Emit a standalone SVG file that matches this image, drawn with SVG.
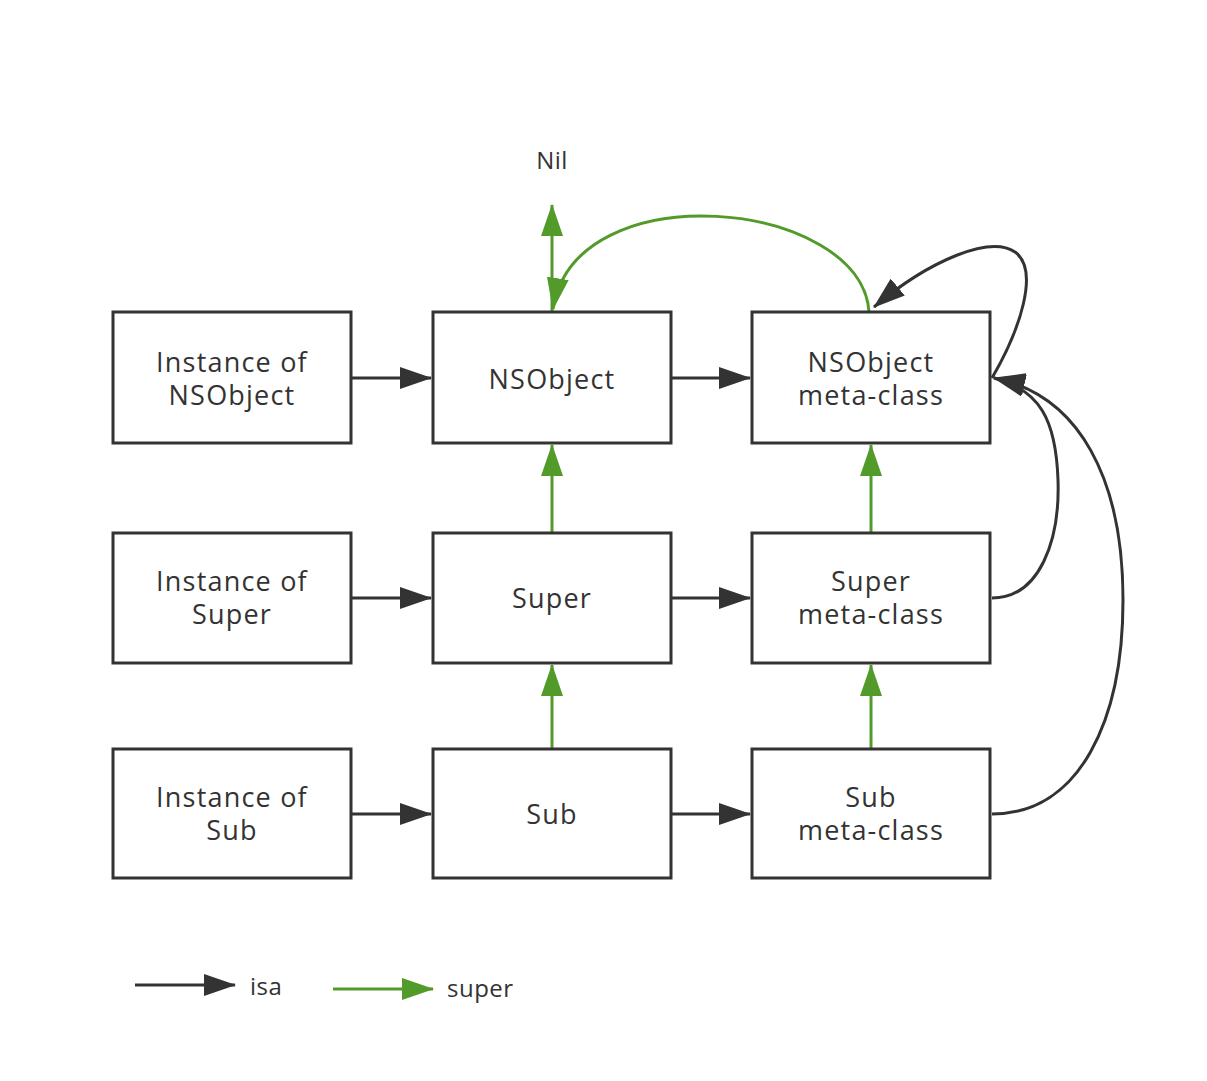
<svg xmlns="http://www.w3.org/2000/svg" width="1207" height="1081" viewBox="0 0 1207 1081">
<style>
.box{fill:#fff;stroke:#333;stroke-width:3}
.t{font-family:"Open Sans","Noto Sans","Liberation Sans",sans-serif;font-size:27px;letter-spacing:1.2px;fill:#333;text-anchor:middle}
.s{font-size:24px;letter-spacing:0.5px}
.isa{fill:none;stroke:#333;stroke-width:3}
.sup{fill:none;stroke:#529a2a;stroke-width:3}
</style>
<defs>
<marker id="ab" markerWidth="32" markerHeight="22" refX="31" refY="11" orient="auto" markerUnits="userSpaceOnUse"><path d="M0,0 L32,11 L0,22 z" fill="#333"/></marker>
<marker id="ag" markerWidth="32" markerHeight="22" refX="31" refY="11" orient="auto" markerUnits="userSpaceOnUse"><path d="M0,0 L32,11 L0,22 z" fill="#529a2a"/></marker>
</defs>
<rect width="1207" height="1081" fill="#fff"/>
<g id="connectors">
<line class="isa" x1="351" y1="378" x2="431" y2="378" marker-end="url(#ab)"/>
<line class="isa" x1="671" y1="378" x2="750" y2="378" marker-end="url(#ab)"/>
<line class="isa" x1="351" y1="598" x2="431" y2="598" marker-end="url(#ab)"/>
<line class="isa" x1="671" y1="598" x2="750" y2="598" marker-end="url(#ab)"/>
<line class="isa" x1="351" y1="814" x2="431" y2="814" marker-end="url(#ab)"/>
<line class="isa" x1="671" y1="814" x2="750" y2="814" marker-end="url(#ab)"/>
<line class="sup" x1="552" y1="533" x2="552" y2="445" marker-end="url(#ag)"/>
<line class="sup" x1="552" y1="749" x2="552" y2="665" marker-end="url(#ag)"/>
<line class="sup" x1="871" y1="533" x2="871" y2="445" marker-end="url(#ag)"/>
<line class="sup" x1="871" y1="749" x2="871" y2="665" marker-end="url(#ag)"/>
<line class="sup" x1="552" y1="312" x2="552" y2="205" marker-end="url(#ag)"/>
<path class="sup" d="M869 312 C862 200, 575 170, 553 309" marker-end="url(#ag)"/>
<path class="isa" d="M992 378 C1020 330, 1040 270, 1015 252 C990 235, 930 260, 874 307" marker-end="url(#ab)"/>
<path class="isa" d="M992 598 C1040 598, 1060 540, 1058 480 C1056 420, 1040 390, 994 378" marker-end="url(#ab)"/>
<path class="isa" d="M992 814 C1080 814, 1123 720, 1123 600 C1123 480, 1080 395, 994 378" marker-end="url(#ab)"/>
</g>
<g id="nil"><text class="t s" x="552" y="169">Nil</text></g>
<g id="inst-nsobject"><rect class="box" x="113" y="312" width="238" height="131"/><text class="t" x="232" y="372">Instance of</text><text class="t" x="232" y="405">NSObject</text></g>
<g id="nsobject"><rect class="box" x="433" y="312" width="238" height="131"/><text class="t" x="552" y="389">NSObject</text></g>
<g id="nsobject-meta"><rect class="box" x="752" y="312" width="238" height="131"/><text class="t" x="871" y="372">NSObject</text><text class="t" x="871" y="405">meta-class</text></g>
<g id="inst-super"><rect class="box" x="113" y="533" width="238" height="130"/><text class="t" x="232" y="591">Instance of</text><text class="t" x="232" y="624">Super</text></g>
<g id="super"><rect class="box" x="433" y="533" width="238" height="130"/><text class="t" x="552" y="608">Super</text></g>
<g id="super-meta"><rect class="box" x="752" y="533" width="238" height="130"/><text class="t" x="871" y="591">Super</text><text class="t" x="871" y="624">meta-class</text></g>
<g id="inst-sub"><rect class="box" x="113" y="749" width="238" height="129"/><text class="t" x="232" y="807">Instance of</text><text class="t" x="232" y="840">Sub</text></g>
<g id="sub"><rect class="box" x="433" y="749" width="238" height="129"/><text class="t" x="552" y="824">Sub</text></g>
<g id="sub-meta"><rect class="box" x="752" y="749" width="238" height="129"/><text class="t" x="871" y="807">Sub</text><text class="t" x="871" y="840">meta-class</text></g>
<g id="legend">
<line class="isa" x1="135" y1="985" x2="235" y2="985" marker-end="url(#ab)"/>
<text class="t s" x="250" y="995" style="text-anchor:start">isa</text>
<line class="sup" x1="333" y1="989" x2="433" y2="989" marker-end="url(#ag)"/>
<text class="t s" x="447" y="997" style="text-anchor:start">super</text>
</g>
</svg>
